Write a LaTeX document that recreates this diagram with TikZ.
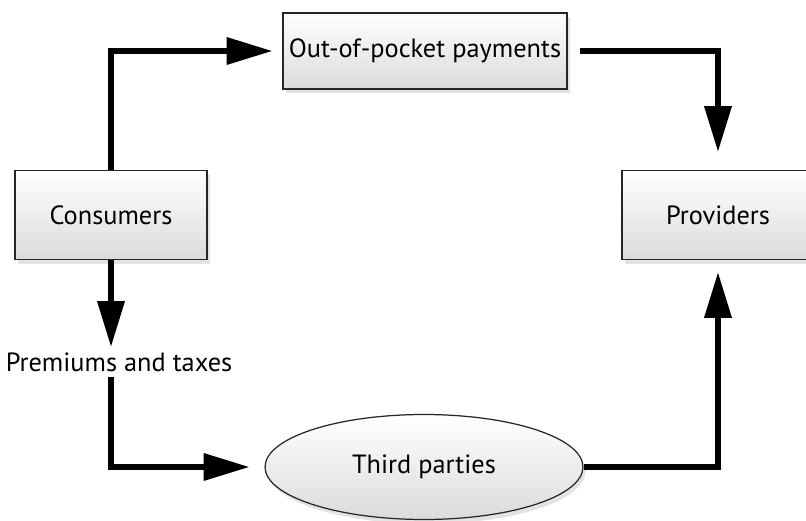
\documentclass[tikz,border=0pt]{standalone}
\usepackage{fontspec}
\setmainfont{PT Sans}
\usetikzlibrary{arrows.meta,shadows,shapes.geometric}

\begin{document}
\begin{tikzpicture}[x=0.02cm,y=-0.02cm,
    font=\fontsize{15}{18}\selectfont,
    box/.style={draw=black!85,line width=0.7pt,top color=white,bottom color=black!14,
      drop shadow={opacity=0.22,shadow xshift=1.5pt,shadow yshift=-2.5pt},
      minimum width=3.84cm,minimum height=1.78cm},
    flow/.style={line width=3.1pt,-{Triangle[length=26pt,width=15pt]}}]
    \useasboundingbox (0,0) rectangle (806,521);
    \node[box] (cons) at (111,215) {Consumers};
    \node[box,minimum width=5.62cm,minimum height=1.52cm] (oop) at (425,51) {Out-of-pocket payments};
    \node[box] (prov) at (718,215) {Providers};
    \node[box,ellipse,minimum width=6.36cm,minimum height=2.1cm] (third) at (424,467) {Third parties};
    \node[inner sep=3pt] (prem) at (119,362) {Premiums and taxes};
    \draw[flow,shorten >=0.2cm] (cons.north) |- (oop.west);
    \draw[flow,shorten <=0.24cm,shorten >=0.36cm] (oop.east) -| (prov.north);
    \draw[flow] (cons.south) -- (cons.south |- prem.north);
    \draw[flow,shorten >=0.3cm] (cons.south |- prem.south) |- (third.west);
    \draw[flow,shorten >=0.24cm] (third.east) -| (prov.south);
\end{tikzpicture}
\end{document}
